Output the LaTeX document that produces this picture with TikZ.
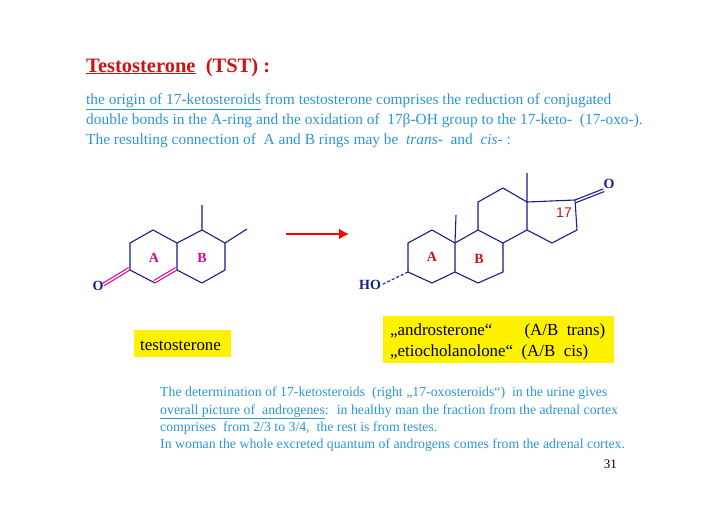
\documentclass[tikz,border=0pt]{standalone}
\usepackage{fontspec}
\setmainfont{Liberation Serif}
\newfontfamily\sansf{Liberation Sans}
\usetikzlibrary{calc,arrows.meta}
\newcommand{\myul}[1]{\underline{#1}}
\begin{document}
\begin{tikzpicture}[x=1pt,y=-1pt,
  bond/.style={draw=navy,line width=1.1pt},
  dbl/.style={draw=magenta!90!blue,line width=1pt},
  body/.style={anchor=base west,inner sep=0,text=skyb,font=\fontsize{15.4}{17}\selectfont},
  small/.style={anchor=base west,inner sep=0,text=skyb,font=\fontsize{13.8}{15}\selectfont},
  atom/.style={text=navy,font=\bfseries\fontsize{14}{15}\selectfont,inner sep=0},
  ringlbl/.style={font=\bfseries\fontsize{14}{15}\selectfont,inner sep=0},
  ybox/.style={fill=yellow,inner sep=0},
  ytext/.style={anchor=base west,inner sep=0,font=\fontsize{16.9}{18}\selectfont}]
\definecolor{navy}{RGB}{25,30,140}
\definecolor{skyb}{RGB}{45,150,210}
\definecolor{tred}{RGB}{205,20,20}
\useasboundingbox (0,0) rectangle (728,514);
\fill[white] (0,0) rectangle (728,514);
% title and text
\node[anchor=base west,inner sep=0,text=tred,font=\bfseries\fontsize{20.5}{22}\selectfont] (title) at (86,72) {\myul{Testosterone}\ \ (TST) :};
\node[body] (l1) at (86,104) {\myul{the origin of 17-ketosteroids} from testosterone comprises the reduction of conjugated};
\node[body] (l2) at (86,124) {double bonds in the A-ring and the oxidation of \ 17β-OH group to the 17-keto- \ (17-oxo-).};
\node[body] (l3) at (86,144) {The resulting connection of \ A and B rings may be \ \textit{trans}- \ and \ \textit{cis}- :};
% left molecule
\coordinate (a1) at (153,230); \coordinate (a2) at (130,243); \coordinate (a3) at (130,270);
\coordinate (a4) at (155,283); \coordinate (a5) at (177,270); \coordinate (a6) at (177,243);
\coordinate (b1) at (202,230); \coordinate (b2) at (225,243); \coordinate (b3) at (225,270);
\coordinate (b4) at (202,283); \coordinate (m1) at (202,205); \coordinate (m2) at (247,229);
\node[atom] (O1) at (98,286) {O};
\draw[bond] (a3)--(a2)--(a1)--(a6)--(a5) (a3)--(a4);
\draw[bond] (a6)--(b1)--(b2)--(b3)--(b4)--(a5) (b1)--(m1) (b2)--(m2);
\draw[dbl] (a4)--(a5) ($(a4)!2.8pt!90:(a5)$)--($(a5)!2.8pt!-90:(a4)$);
\draw[dbl] (a3)--(O1.east) ($(a3)!2.8pt!-90:(O1.east)$)--($(O1.east)!2.8pt!90:(a3)$);
\node[ringlbl,text=magenta!90!blue] (lA) at (154,258) {A};
\node[ringlbl,text=magenta!90!blue] (lB) at (202,258) {B};
% arrow
\coordinate (ar1) at (286,234); \coordinate (ar2) at (349,234);
\draw[red,line width=2.8pt,-{Latex[length=10pt,width=11pt]}] (ar1)--(ar2);
% right molecule
\coordinate (c1) at (408,243); \coordinate (c2) at (432,230); \coordinate (c10) at (455,243);
\coordinate (c5) at (455,272); \coordinate (c4) at (432,283); \coordinate (c3) at (408,272);
\coordinate (c9) at (478,230); \coordinate (c8) at (503,243); \coordinate (c7) at (503,272);
\coordinate (c6) at (478,283); \coordinate (c11) at (478,202); \coordinate (c12) at (503,188);
\coordinate (c13) at (527,202); \coordinate (c14) at (527,230); \coordinate (c17) at (575,200);
\coordinate (c16) at (577,230); \coordinate (c15) at (552,243);
\coordinate (m3) at (456,215); \coordinate (m4) at (527,173);
\node[atom] (O2) at (609,184) {O};
\node[atom] (HO) at (370,285) {HO};
\draw[bond] (c1)--(c2)--(c10)--(c5)--(c4)--(c3)--cycle;
\draw[bond] (c10)--(c9)--(c8)--(c7)--(c6)--(c5);
\draw[bond] (c9)--(c11)--(c12)--(c13)--(c14)--(c8);
\draw[bond] (c13)--(c17)--(c16)--(c15)--(c14);
\draw[bond] (c10)--(m3) (c13)--(m4);
\draw[bond] (c17)--(O2.south west) ($(c17)!2.8pt!-90:(O2.south west)$)--($(O2.south west)!2.8pt!90:(c17)$);
\draw[bond,densely dashed] (c3)--(HO.east);
\node[ringlbl,text=tred] (rA) at (432,257) {A};
\node[ringlbl,text=tred] (rB) at (479,259) {B};
\node[inner sep=0,text=tred,font=\sansf\fontsize{14}{15}\selectfont] (n17) at (564,213) {17};
% yellow boxes
\node[ybox,minimum width=97pt,minimum height=27pt] (yb1) at (182.5,343.5) {};
\node[ytext] (t1) at (140,350) {testosterone};
\node[ybox,minimum width=231pt,minimum height=47pt] (yb2) at (498.5,339.5) {};
\node[ytext] (t2) at (390,335) {„androsterone“ \qquad\kern-6pt (A/B \ trans)};
\node[ytext] (t3) at (390,356) {„etiocholanolone“ \ (A/B \ cis)};
% bottom text
\node[small] (s1) at (160,396) {The determination of 17-ketosteroids \ (right „17-oxosteroids“) \ in the urine gives};
\node[small] (s2) at (160,414) {\myul{overall picture of \ androgenes}: \ in healthy man the fraction from the adrenal cortex};
\node[small] (s3) at (160,431) {comprises \ from 2/3 to 3/4, \ the rest is from testes.};
\node[small] (s4) at (160,448) {In woman the whole excreted quantum of androgens comes from the adrenal cortex.};
\node[anchor=base east,inner sep=0,font=\fontsize{13}{14}\selectfont] (pg) at (617,468) {31};
\end{tikzpicture}
\end{document}
